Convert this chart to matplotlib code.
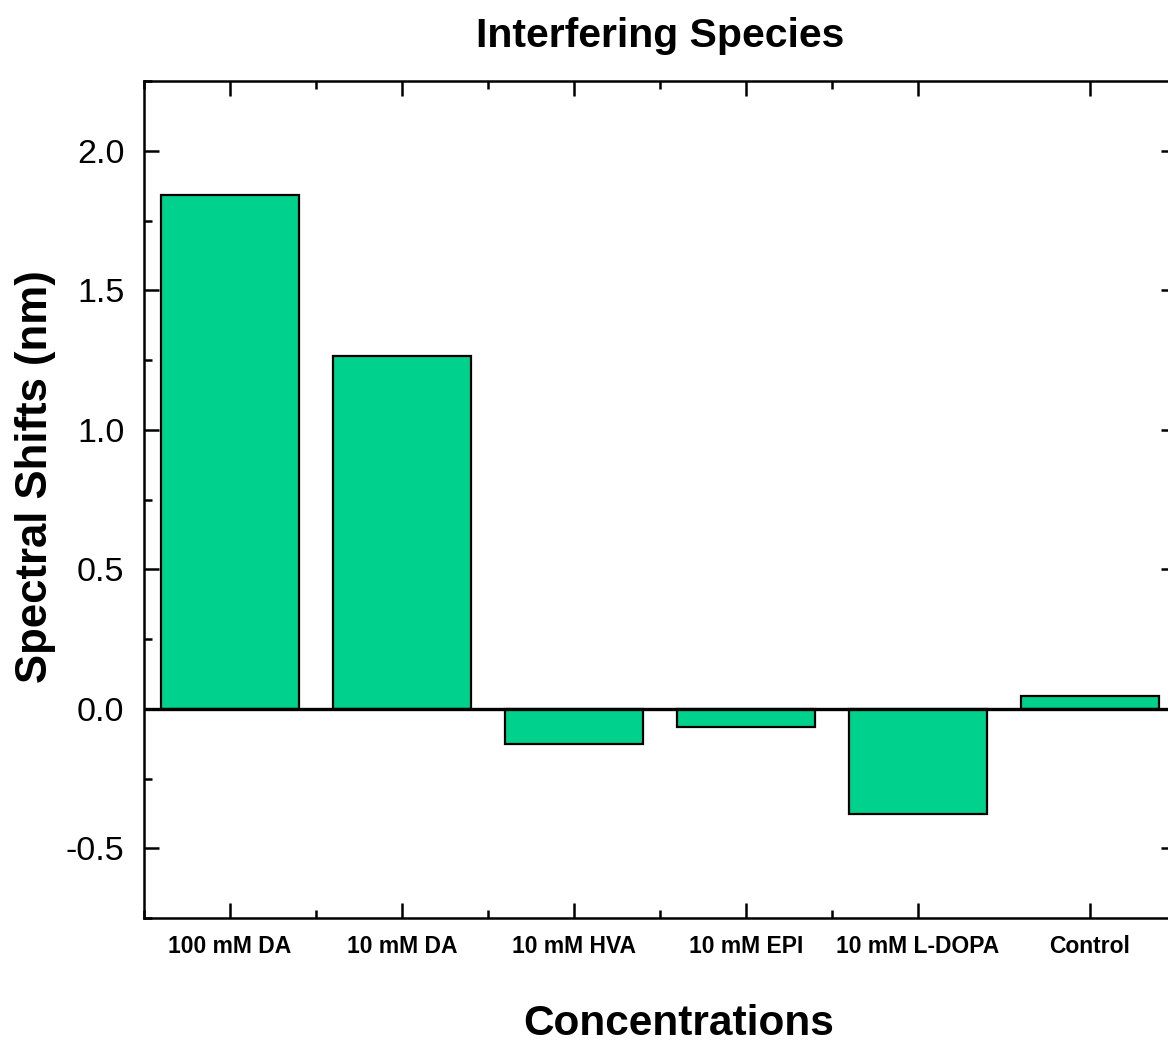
import matplotlib
matplotlib.use("Agg")
import matplotlib.pyplot as plt
from matplotlib.ticker import MultipleLocator, FixedLocator

categories = ["100 mM DA", "10 mM DA", "10 mM HVA", "10 mM EPI", "10 mM L-DOPA", "Control"]
shifts = [1.84, 1.263, -0.125, -0.064, -0.379, 0.047]
yticks = [-0.5, 0.0, 0.5, 1.0, 1.5, 2.0]
ytick_labels = ["-0.5", "0.0", "0.5", "1.0", "1.5", "2.0"]

plt.rcParams['font.family'] = ['Liberation Sans', 'DejaVu Sans']

W, H = 1168, 1042
fig = plt.figure(figsize=(W / 100, H / 100), dpi=100)
left, right, top, bottom = 144, 1176, 81, 918
ax = fig.add_axes([left / W, 1 - bottom / H, (right - left) / W, (bottom - top) / H])
aw, ah = right - left, bottom - top

x = list(range(1, len(categories) + 1))
ax.bar(x, shifts, width=0.8, color="#00D18C", edgecolor="black", linewidth=1.6, zorder=2)
ax.axhline(0, color="black", linewidth=2.4, zorder=3)

ax.set_xlim(0.5, len(categories) + 0.5)
ax.set_ylim(-0.75, 2.25)
ax.set_xticks(x)
ax.set_xticklabels(categories, fontsize=16.5, fontweight="bold")
ax.xaxis.set_minor_locator(FixedLocator([i + 0.5 for i in range(len(categories) - 1)]))
ax.set_yticks(yticks)
ax.set_yticklabels(ytick_labels, fontsize=24.5)
ax.yaxis.set_minor_locator(MultipleLocator(0.25))

for s in ax.spines.values():
    s.set_linewidth(1.8)

ax.tick_params(which="both", direction="in", top=True, right=True, width=1.8)
ax.tick_params(which="major", length=11)
ax.tick_params(which="minor", length=6)
ax.tick_params(axis="x", which="major", pad=12)
ax.tick_params(axis="y", which="major", pad=14)

ax.set_title("Interfering Species", fontsize=29.5, fontweight="bold",
             y=(bottom - 47) / ah, pad=0, va="baseline")
ax.set_xlabel("Concentrations", fontsize=30.5, fontweight="bold", va="baseline")
ax.xaxis.set_label_coords((679 - left) / aw, -(1035 - bottom) / ah)
ax.set_ylabel("Spectral Shifts (nm)", fontsize=31.5, fontweight="bold")
ax.yaxis.set_label_coords(-(left - 56) / aw, (bottom - 477) / ah)

fig.savefig("out.png", dpi=100)
